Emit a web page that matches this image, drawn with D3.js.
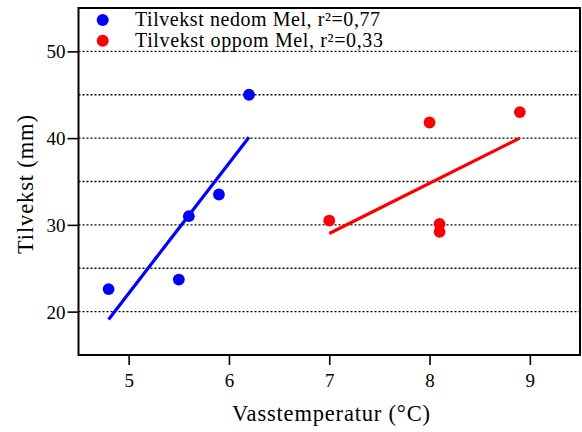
<!DOCTYPE html>
<html><head><meta charset="utf-8">
<script src="https://cdn.jsdelivr.net/npm/d3@7"></script>
</head>
<body style="margin:0;background:#fff"><svg id="c" width="582" height="432" style="font-family:'Liberation Serif','Times New Roman',Times,serif"></svg>
<script>
// Data
const seriesNames = ["Tilvekst nedom Mel, r²=0,77", "Tilvekst oppom Mel, r²=0,33"];
const seriesColors = ["#0000ff", "#ff0000"];
const belowX = [4.8, 5.5, 5.6, 5.9, 6.2];
const belowY = [22.6, 23.7, 31.0, 33.5, 45.0];
const aboveX = [7.0, 8.0, 8.9, 8.1, 8.1];
const aboveY = [30.5, 41.8, 43.0, 30.1, 29.2];
const belowFitX = [4.8, 6.2];
const belowFitY = [19.1, 40.1];
const aboveFitX = [7.0, 8.9];
const aboveFitY = [29.0, 40.0];
const xTicks = [5, 6, 7, 8, 9];
const yTicks = [20, 30, 40, 50];
const gridValues = [20, 25, 30, 35, 40, 45, 50];
const xTitle = "Vasstemperatur (°C)";
const yTitle = "Tilvekst (mm)";

const FONT = "'Liberation Serif', 'Times New Roman', Times, serif";
const svg = d3.select("#c");
const L = 78.5, R = 580, T = 8, B = 355;
const x = d3.scaleLinear().domain([4.5, 9.5]).range([L, R]);
const y = d3.scaleLinear().domain([15, 55]).range([B, T]);

// grid
svg.append("g").selectAll("line").data(gridValues).join("line")
  .attr("x1", L).attr("x2", R)
  .attr("y1", d => y(d)).attr("y2", d => y(d))
  .attr("stroke", "#000").attr("stroke-width", 1.3)
  .attr("stroke-dasharray", "2,2");

// axes
const xAxis = svg.append("g").attr("transform", `translate(0,${B})`)
  .call(d3.axisBottom(x).tickValues(xTicks).tickSize(10).tickPadding(9).tickFormat(d3.format("d")));
const yAxis = svg.append("g").attr("transform", `translate(${L},0)`)
  .call(d3.axisLeft(y).tickValues(yTicks).tickSize(11).tickPadding(2).tickFormat(d3.format("d")));
[xAxis, yAxis].forEach(a => {
  a.attr("font-family", FONT).attr("font-size", 19);
  a.select(".domain").remove();
  a.selectAll("line").attr("stroke", "#000").attr("stroke-width", 1.6);
  a.selectAll("text").attr("font-family", FONT).style("font-family", FONT)
    .attr("font-size", 19).attr("fill", "#000");
});
yAxis.selectAll("text").attr("dy", "0.34em");

// frame
svg.append("rect").attr("x", L).attr("y", T).attr("width", R - L).attr("height", B - T)
  .attr("fill", "none").attr("stroke", "#000").attr("stroke-width", 2);

// fit lines
const line = d3.line().x(d => x(d[0])).y(d => y(d[1]));
[[belowFitX, belowFitY, 0], [aboveFitX, aboveFitY, 1]].forEach(([fx, fy, i]) => {
  svg.append("path").datum(fx.map((v, k) => [v, fy[k]]))
    .attr("d", line).attr("fill", "none")
    .attr("stroke", seriesColors[i]).attr("stroke-width", 3.2);
});

// points
[[belowX, belowY, 0], [aboveX, aboveY, 1]].forEach(([px, py, i]) => {
  svg.append("g").selectAll("circle").data(px.map((v, k) => [v, py[k]])).join("circle")
    .attr("cx", d => x(d[0])).attr("cy", d => y(d[1])).attr("r", 5.9)
    .attr("fill", seriesColors[i]);
});

// legend
const legendLens = [245, 248];
const lg = svg.append("g");
seriesNames.forEach((n, i) => {
  lg.append("circle").attr("cx", 102.7).attr("cy", 20 + i * 20.7).attr("r", 6).attr("fill", seriesColors[i]);
  lg.append("text").attr("x", 135).attr("y", 25.8 + i * 20.7).attr("font-size", 20)
    .attr("font-family", FONT).style("font-family", FONT)
    .attr("textLength", legendLens[i]).attr("lengthAdjust", "spacing").text(n);
});

// titles
svg.append("text").attr("x", 232).attr("y", 420.5)
  .attr("font-size", 22.5).attr("font-family", FONT).style("font-family", FONT)
  .attr("textLength", 198).attr("lengthAdjust", "spacing").text(xTitle);
svg.append("text").attr("transform", "translate(33,254) rotate(-90)")
  .attr("font-size", 22.5).attr("font-family", FONT).style("font-family", FONT)
  .attr("textLength", 139).attr("lengthAdjust", "spacing").text(yTitle);
</script></body></html>
